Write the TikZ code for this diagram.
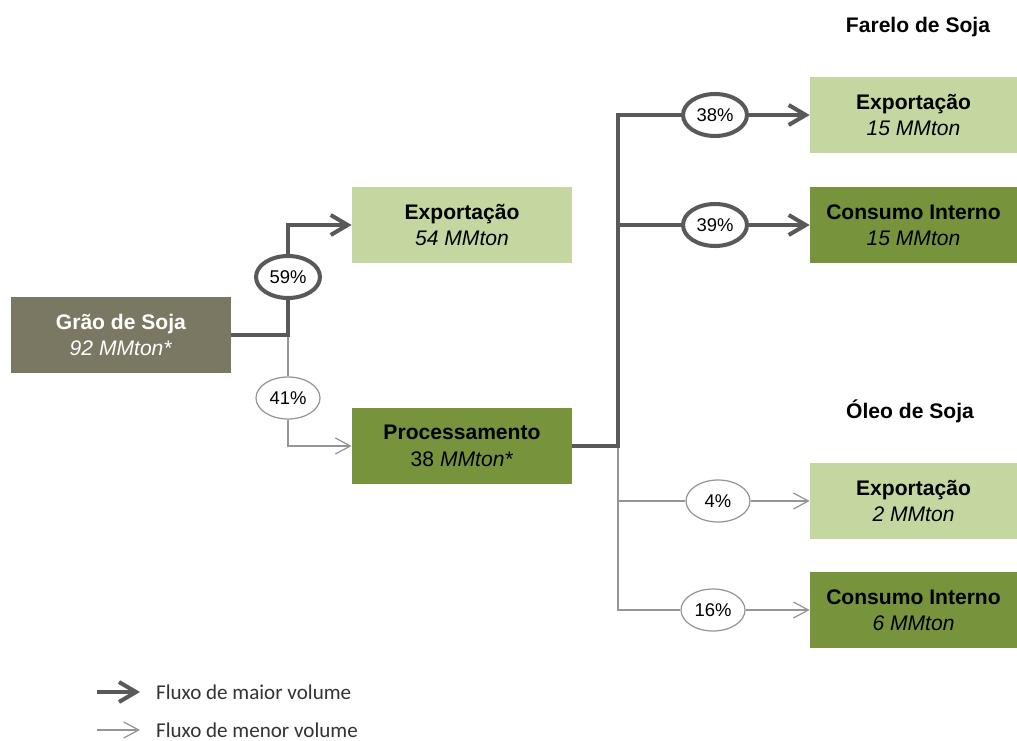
\documentclass[tikz,border=0pt]{standalone}
\usepackage{fontspec}
\setmainfont{Liberation Sans}
\newfontfamily\legendfont{Carlito}
\usetikzlibrary{arrows.meta,shapes.geometric}

\definecolor{grao}{HTML}{7A7862}
\definecolor{verdeclaro}{HTML}{C4D7A0}
\definecolor{verdeescuro}{HTML}{77933C}
\definecolor{linhaforte}{HTML}{595959}
\definecolor{linhafraca}{HTML}{959595}

\tikzset{
  caixa/.style={rectangle, minimum width=4.4cm, minimum height=1.52cm, inner sep=0pt,
    align=center, font=\fontsize{12}{15}\selectfont},
  caixadir/.style={caixa, minimum width=4.14cm},
  claro/.style={fill=verdeclaro},
  escuro/.style={fill=verdeescuro},
  titulo/.style={font=\fontsize{12}{14}\selectfont\bfseries},
  pct/.style={ellipse, fill=white, minimum width=1.28cm, minimum height=0.84cm, inner sep=0pt,
    font=\fontsize{10.5}{12}\selectfont},
  pctforte/.style={pct, draw=linhaforte, line width=2.3pt},
  pctfraco/.style={pct, draw=linhafraca, line width=0.7pt},
  maior/.style={draw=linhaforte, line width=2.3pt, arrows={-Straight Barb[length=3.4mm,width=4mm]}},
  menor/.style={draw=linhafraca, line width=0.7pt, arrows={-Straight Barb[length=3mm,width=3.2mm]}},
  legenda/.style={anchor=west, inner sep=1pt, font=\legendfont\fontsize{12}{14}\selectfont, text=black!80}
}

\begin{document}
\begin{tikzpicture}[x=0.02cm, y=-0.02cm]
  \useasboundingbox (0,0) rectangle (1017,740);
  % caixas
  \node[caixa, fill=grao, text=white] (grao) at (121,335) {\textbf{Grão de Soja}\\\textit{92 MMton*}};
  \node[caixa, claro] (exp) at (462,225) {\textbf{Exportação}\\\textit{54 MMton}};
  \node[caixa, escuro] (proc) at (462,446) {\textbf{Processamento}\\38 \textit{MMton*}};
  \node[titulo] (farelo) at (918,27) {Farelo de Soja};
  \node[caixadir, claro] (fexp) at (913.5,115) {\textbf{Exportação}\\\textit{15 MMton}};
  \node[caixadir, escuro] (fcons) at (913.5,225) {\textbf{Consumo Interno}\\\textit{15 MMton}};
  \node[titulo] (oleo) at (910,411) {Óleo de Soja};
  \node[caixadir, claro] (oexp) at (913.5,501) {\textbf{Exportação}\\\textit{2 MMton}};
  \node[caixadir, escuro] (ocons) at (913.5,610) {\textbf{Consumo Interno}\\\textit{6 MMton}};
  % porcentagens
  \node[pctforte] (p59) at (288,277) {59\%};
  \node[pctfraco] (p41) at (288,398) {41\%};
  \node[pctforte] (p38) at (715,115) {38\%};
  \node[pctforte] (p39) at (715,225) {39\%};
  \node[pctfraco] (p4) at (718,501) {4\%};
  \node[pctfraco] (p16) at (713,610) {16\%};
  % juncoes
  \coordinate (j1) at (grao.east -| p59);
  \coordinate (j2) at (618,446);
  \coordinate (j3) at (j2 |- p38);
  \coordinate (j4) at (j2 |- p16);
  % fluxos
  \draw[menor, -] (j1) -- (p41);
  \draw[menor] (p41) |- (proc);
  \draw[maior, -] (grao.east) -| (p59);
  \draw[maior] (p59) |- (exp);
  \draw[menor, -] (j2) -- (j4) -- (p16);
  \draw[menor, -] (j2 |- p4) -- (p4);
  \draw[menor] (p4) -- (oexp);
  \draw[menor] (p16) -- (ocons);
  \draw[maior, -] (proc.east) -- (j2) -- (j3) -- (p38);
  \draw[maior, -] (j2 |- p39) -- (p39);
  \draw[maior] (p38) -- (fexp);
  \draw[maior] (p39) -- (fcons);
  % legenda
  \coordinate (lg1) at (97,692);
  \coordinate (lg2) at (140,692);
  \coordinate (lg3) at (97,730);
  \coordinate (lg4) at (140,730);
  \draw[maior] (lg1) -- (lg2);
  \draw[menor] (lg3) -- (lg4);
  \node[legenda] (lmaior) at (154,692) {Fluxo de maior volume};
  \node[legenda] (lmenor) at (154,730) {Fluxo de menor volume};
\end{tikzpicture}
\end{document}
